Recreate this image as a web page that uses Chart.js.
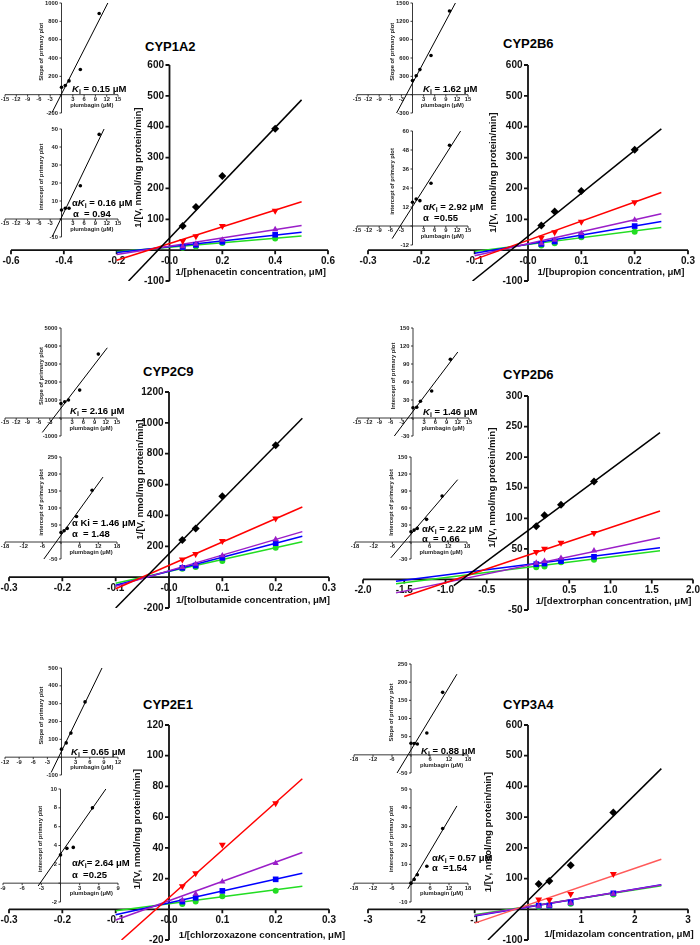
<!DOCTYPE html>
<html>
<head>
<meta charset="utf-8">
<script src="https://cdn.jsdelivr.net/npm/chart.js@4.4.0/dist/chart.umd.min.js"></script>
<style>
  html, body { margin: 0; padding: 0; background: #fff; }
  #page { position: relative; width: 700px; height: 945px; overflow: hidden; font-family: Arial, "Liberation Sans", sans-serif; }
  canvas { position: absolute; }
  .ttl { position: absolute; font: bold 13px Arial, "Liberation Sans", sans-serif; line-height: 14px; white-space: nowrap; }
  .ki { position: absolute; font: bold 9.5px Arial, "Liberation Sans", sans-serif; line-height: 11px; white-space: nowrap; }
  .ki sub { font-size: 7px; vertical-align: -2px; line-height: 0; }
</style>
</head>
<body>
<div id="page">
  <div class="ttl" style="left:145px;top:40px">CYP1A2</div>
  <div class="ttl" style="left:503px;top:37px">CYP2B6</div>
  <div class="ttl" style="left:143px;top:365px">CYP2C9</div>
  <div class="ttl" style="left:503px;top:368px">CYP2D6</div>
  <div class="ttl" style="left:143px;top:698px">CYP2E1</div>
  <div class="ttl" style="left:503px;top:698px">CYP3A4</div>
</div>
<script>
// ---- main Lineweaver-Burk plots: 1/[S] and 1/V for each plumbagin level ----
// series order: black, red, purple, blue, green
const conc1A2 = [0.05, 0.1, 0.2, 0.4];
const black1A2 = [78, 140, 240, 393];
const red1A2 = [30, 45, 78, 128];
const purple1A2 = [12, 20, 33, 67];
const blue1A2 = [10, 17, 27, 50];
const green1A2 = [8, 12, 23, 38];
const fits1A2 = [[-0.155, -100, 0.5, 487], [-0.2, -33, 0.5, 157], [-0.2, -14, 0.5, 80], [-0.2, -8, 0.5, 58], [-0.2, -5, 0.5, 46]];

const conc2B6 = [0.025, 0.05, 0.1, 0.2];
const black2B6 = [80, 125, 192, 325];
const red2B6 = [40, 58, 92, 155];
const purple2B6 = [22, 33, 55, 98];
const blue2B6 = [20, 28, 47, 78];
const green2B6 = [15, 22, 42, 60];
const fits2B6 = [[-0.104, -100, 0.25, 393], [-0.1, -30, 0.25, 187], [-0.1, -18, 0.25, 118], [-0.1, -10, 0.25, 93], [-0.1, -4, 0.25, 73]];

const conc2C9 = [0.025, 0.05, 0.1, 0.2];
const black2C9 = [240, 315, 525, 855];
const red2C9 = [115, 150, 235, 380];
const purple2C9 = [65, 85, 140, 245];
const blue2C9 = [60, 75, 125, 220];
const green2C9 = [55, 65, 105, 190];
const fits2C9 = [[-0.1, -200, 0.25, 1030], [-0.1, -75, 0.25, 455], [-0.1, -60, 0.25, 295], [-0.1, -52, 0.25, 265], [-0.1, -40, 0.25, 230]];

const conc2D6 = [0.1, 0.2, 0.4, 0.8];
const black2D6 = [87, 105, 122, 160];
const red2D6 = [45, 50, 60, 76];
const purple2D6 = [27, 30, 35, 47];
const blue2D6 = [25, 26, 30, 37];
const green2D6 = [20, 21, 28, 32];
const fits2D6 = [[-0.9, -10, 1.6, 240], [-1.5, -28, 1.6, 112], [-1.6, -22, 1.6, 68], [-1.6, -3, 1.6, 52], [-1.6, -7, 1.6, 47]];

const conc2E1 = [0.025, 0.05, 0.1, 0.2];
const red2E1 = [15, 23.5, 42, 69];
const purple2E1 = [6, 10, 18, 30];
const blue2E1 = [5, 7.5, 12, 19.5];
const green2E1 = [3.5, 5, 8.5, 12];
const fits2E1 = [null, [-0.089, -20, 0.25, 85], [-0.1, -7, 0.25, 37], [-0.1, -3.5, 0.25, 23.5], [-0.1, -1, 0.25, 15]];

const conc3A4 = [0.2, 0.4, 0.8, 1.6];
const black3A4 = [82, 92, 143, 315];
const red3A4 = [32, 30, 50, 115];
const purple3A4 = [10, 12, 20, 50];
const blue3A4 = [12, 12, 22, 52];
const green3A4 = [8, 10, 18, 48];
const fits3A4 = [[-0.75, -100, 2.5, 458], [-1, -45, 2.5, 163], [-1, -20, 2.5, 79], [-1, -22, 2.5, 80], [-1, -18, 2.5, 77]];

// ---- secondary plots vs plumbagin (μM) ----
const plumb = [0, 1, 2, 5, 10];
const plumb2E1 = [0, 1, 2, 5];
const slope1A2 = [80, 100, 150, 275, 885];
const slopeFit1A2 = [-2.5, -194, 12.3, 1000];
const icpt1A2 = [5, 6, 6, 18.5, 47];
const icptFit1A2 = [-2.5, -10, 11.3, 50];
const slope2B6 = [230, 310, 410, 640, 1370];
const slopeFit2B6 = [-4.3, -300, 11.6, 1500];
const icpt2B6 = [15, 17, 16, 27, 51];
const icptFit2B6 = [-5.5, -8, 13, 60];
const slope2C9 = [800, 900, 1000, 1550, 3550];
const slopeFit2C9 = [-5, -800, 12.4, 3900];
const icpt2C9 = [28, 33, 40, 75, 152];
const icptFit2C9 = [-5.5, -50, 13.5, 191];
const slope2D6 = [17, 18, 28, 45, 98];
const slopeFit2D6 = [-5, -30, 12, 110];
const icpt2D6 = [18, 21, 24, 40, 81];
const icptFit2D6 = [-6.5, -28, 15, 110];
const slope2E1 = [45, 80, 135, 310];
const slopeFit2E1 = [-2.2, -86, 8.6, 500];
const icpt2E1 = [3, 3.7, 3.8, 8];
const icptFit2E1 = [-3.5, -0.3, 7.1, 10];
const slope3A4 = [32, 31, 30, 60, 172];
const slopeFit3A4 = [-4.4, -50, 14.5, 222];
const icpt3A4 = [0, 2, 4.5, 9, 29];
const icptFit3A4 = [-1, -3, 14.5, 41];

// ---- tick values / labels ----
const tX1A2 = [-0.6, -0.4, -0.2, 0, 0.2, 0.4, 0.6];
const lX1A2 = ['-0.6', '-0.4', '-0.2', '-0.0', '0.2', '0.4', '0.6'];
const tX03 = [-0.3, -0.2, -0.1, 0, 0.1, 0.2, 0.3];
const lX03 = ['-0.3', '-0.2', '-0.1', '-0.0', '0.1', '0.2', '0.3'];
const tX2D6 = [-2, -1.5, -1, -0.5, 0, 0.5, 1, 1.5, 2];
const lX2D6 = ['-2.0', '-1.5', '-1.0', '-0.5', '', '0.5', '1.0', '1.5', '2.0'];
const tX3A4 = [-3, -2, -1, 0, 1, 2, 3];
const lX3A4 = ['-3', '-2', '-1', '', '1', '2', '3'];
const tY600 = [-100, 0, 100, 200, 300, 400, 500, 600];
const lY600 = ['-100', '', '100', '200', '300', '400', '500', '600'];
const tY2C9 = [-200, 0, 200, 400, 600, 800, 1000, 1200];
const lY2C9 = ['-200', '', '200', '400', '600', '800', '1000', '1200'];
const tY2D6 = [-50, 0, 50, 100, 150, 200, 250, 300];
const lY2D6 = ['-50', '', '50', '100', '150', '200', '250', '300'];
const tY2E1 = [-20, 0, 20, 40, 60, 80, 100, 120];
const lY2E1 = ['-20', '', '20', '40', '60', '80', '100', '120'];

const tI15 = [-15, -12, -9, -6, -3, 0, 3, 6, 9, 12, 15];
const lI15 = ['-15', '-12', '-9', '-6', '-3', '', '3', '6', '9', '12', '15'];
const tI18 = [-18, -12, -6, 0, 6, 12, 18];
const lI18 = ['-18', '-12', '-6', '', '6', '12', '18'];
const tI12 = [-12, -9, -6, -3, 0, 3, 6, 9, 12];
const lI12 = ['-12', '-9', '-6', '-3', '', '3', '6', '9', '12'];
const tI9 = [-9, -6, -3, 0, 3, 6, 9];
const lI9 = ['-9', '-6', '-3', '', '3', '6', '9'];

const PAD = 50;
const page = document.getElementById('page');

const crossAxes = {
  id: 'crossAxes',
  beforeDatasetsDraw(chart, args, o) {
    const { ctx } = chart;
    const xs = chart.scales.x, ys = chart.scales.y;
    const x0 = xs.getPixelForValue(0), y0 = ys.getPixelForValue(0);
    ctx.save();
    ctx.strokeStyle = o.color; ctx.fillStyle = o.color; ctx.lineWidth = o.lw;
    ctx.beginPath();
    ctx.moveTo(xs.left, y0); ctx.lineTo(xs.right, y0);
    ctx.moveTo(x0, ys.top); ctx.lineTo(x0, ys.bottom);
    o.xTicks.forEach(v => { const p = xs.getPixelForValue(v); ctx.moveTo(p, y0); ctx.lineTo(p, y0 + o.tl); });
    o.yTicks.forEach(v => { const p = ys.getPixelForValue(v); ctx.moveTo(x0, p); ctx.lineTo(x0 - o.tl, p); });
    ctx.stroke();
    ctx.font = o.tickFont;
    ctx.textAlign = 'center'; ctx.textBaseline = 'middle';
    o.xTicks.forEach((v, i) => { if (o.xLabels[i]) ctx.fillText(o.xLabels[i], xs.getPixelForValue(v), y0 + o.xLabelDy); });
    ctx.textAlign = 'right';
    o.yTicks.forEach((v, i) => { if (o.yLabels[i]) ctx.fillText(o.yLabels[i], x0 - o.tl - 1.5, ys.getPixelForValue(v)); });
    ctx.font = o.titleFont; ctx.textAlign = 'center';
    ctx.fillText(o.xTitle, (x0 + xs.right) / 2 + o.xTitleDx, y0 + o.xTitleDy);
    ctx.translate(x0 - o.yTitleDx, (ys.top + y0) / 2 + o.yTitleDy);
    ctx.rotate(-Math.PI / 2);
    ctx.fillText(o.yTitle, 0, 0);
    ctx.restore();
  }
};

function addChart(box, xr, yr, datasets, axes) {
  const c = document.createElement('canvas');
  const w = box.w + 2 * PAD, h = box.h + 2 * PAD;
  c.width = w; c.height = h;
  c.style.left = (box.x - PAD) + 'px'; c.style.top = (box.y - PAD) + 'px';
  c.style.width = w + 'px'; c.style.height = h + 'px';
  page.appendChild(c);
  return new Chart(c, {
    type: 'scatter',
    data: { datasets },
    options: {
      responsive: false, animation: false, devicePixelRatio: 1, events: [],
      layout: { padding: PAD },
      plugins: { legend: { display: false }, tooltip: { enabled: false }, crossAxes: axes },
      scales: {
        x: { type: 'linear', min: xr[0], max: xr[1], display: false },
        y: { type: 'linear', min: yr[0], max: yr[1], display: false }
      }
    },
    plugins: [crossAxes]
  });
}

const STY = [
  { color: '#000000', style: 'rectRot', r: 4, rot: 0 },
  { color: '#ff0000', style: 'triangle', r: 4, rot: 180 },
  { color: '#9a1ec8', style: 'triangle', r: 3.6, rot: 0 },
  { color: '#0000ff', style: 'rect', r: 4, rot: 0 },
  { color: '#22dd22', style: 'circle', r: 3, rot: 0 }
];

function mainSets(xs, vals, fits, lineColors) {
  const out = [];
  vals.forEach((ys, i) => {
    if (!ys) return;
    const s = STY[i], f = fits[i];
    out.push({ data: [{ x: f[0], y: f[1] }, { x: f[2], y: f[3] }], showLine: true,
      borderColor: (lineColors && lineColors[i]) || s.color, borderWidth: 1.5, pointRadius: 0, order: 2 });
    out.push({ data: xs.map((x, k) => ({ x, y: ys[k] })), showLine: false, pointStyle: s.style,
      pointRotation: s.rot, pointRadius: s.r, backgroundColor: s.color, borderColor: s.color, borderWidth: 0, order: 1 });
  });
  return out;
}

function insetSets(xs, ys, f) {
  return [
    { data: [{ x: f[0], y: f[1] }, { x: f[2], y: f[3] }], showLine: true, borderColor: '#000', borderWidth: 1, pointRadius: 0, order: 2 },
    { data: xs.map((x, k) => ({ x, y: ys[k] })), showLine: false, pointStyle: 'circle', pointRadius: 1.8,
      backgroundColor: '#000', borderColor: '#000', borderWidth: 0, order: 1 }
  ];
}

const YT = '1/[V, nmol/mg protein/min]';
function mainAxes(xT, xL, yT, yL, xTitle, dx, dy, ytDx, ytDy) {
  return { color: '#111', lw: 1.8, tl: 4, tickFont: 'bold 10px Arial', titleFont: 'bold 9.6px Arial',
    xTicks: xT, xLabels: xL, yTicks: yT, yLabels: yL, xLabelDy: 11,
    xTitle, xTitleDx: dx, xTitleDy: dy, yTitle: YT, yTitleDx: ytDx, yTitleDy: ytDy };
}
function insetAxes(xT, xL, yT, yL, yTitle) {
  return { color: '#222', lw: 0.9, tl: 2, tickFont: 'bold 5.8px Arial', titleFont: 'bold 5.8px Arial',
    xTicks: xT, xLabels: xL, yTicks: yT, yLabels: yL, xLabelDy: 4.8,
    xTitle: 'plumbagin (μM)', xTitleDx: 2, xTitleDy: 10.5, yTitle, yTitleDx: 20, yTitleDy: 3 };
}
const SL = 'Slope of primary plot', IC = 'intercept of primary plot';

// main panels
addChart({ x: 11, y: 65, w: 317, h: 216 }, [-0.6, 0.6], [-100, 600],
  mainSets(conc1A2, [black1A2, red1A2, purple1A2, blue1A2, green1A2], fits1A2),
  mainAxes(tX1A2, lX1A2, tY600, lY600, '1/[phenacetin concentration, μM]', 2, 22, 31, 10));
addChart({ x: 368, y: 65, w: 320, h: 216 }, [-0.3, 0.3], [-100, 600],
  mainSets(conc2B6, [black2B6, red2B6, purple2B6, blue2B6, green2B6], fits2B6),
  mainAxes(tX03, lX03, tY600, lY600, '1/[bupropion concentration, μM]', 3, 22, 35, 15));
addChart({ x: 9, y: 392, w: 320, h: 216 }, [-0.3, 0.3], [-200, 1200],
  mainSets(conc2C9, [black2C9, red2C9, purple2C9, blue2C9, green2C9], fits2C9),
  mainAxes(tX03, lX03, tY2C9, lY2C9, '1/[tolbutamide concentration, μM]', 4, 23, 29, -5));
addChart({ x: 363, y: 396, w: 330, h: 214 }, [-2, 2], [-50, 300],
  mainSets(conc2D6, [black2D6, red2D6, purple2D6, blue2D6, green2D6], fits2D6),
  mainAxes(tX2D6, lX2D6, tY2D6, lY2D6, '1/[dextrorphan concentration, μM]', 3, 22, 36, 0));
addChart({ x: 9, y: 725, w: 320, h: 215 }, [-0.3, 0.3], [-20, 120],
  mainSets(conc2E1, [null, red2E1, purple2E1, blue2E1, green2E1], fits2E1),
  mainAxes(tX03, lX03, tY2E1, lY2E1, '1/[chlorzoxazone concentration, μM]', 13, 26, 32, 12));
addChart({ x: 368, y: 725, w: 320, h: 215 }, [-3, 3], [-100, 600],
  mainSets(conc3A4, [black3A4, red3A4, purple3A4, blue3A4, green3A4], fits3A4, [null, '#ff5a5a']),
  mainAxes(tX3A4, lX3A4, tY600, lY600, '1/[midazolam concentration, μM]', 11, 25, 40, 15));

// inset panels
addChart({ x: 5, y: 3, w: 113, h: 110 }, [-15, 15], [-200, 1000], insetSets(plumb, slope1A2, slopeFit1A2),
  insetAxes(tI15, lI15, [-200, 0, 200, 400, 600, 800, 1000], ['-200', '', '200', '400', '600', '800', '1000'], SL));
addChart({ x: 5, y: 129, w: 113, h: 108 }, [-15, 15], [-10, 50], insetSets(plumb, icpt1A2, icptFit1A2),
  insetAxes(tI15, lI15, [-10, 0, 10, 20, 30, 40, 50], ['-10', '', '10', '20', '30', '40', '50'], IC));
addChart({ x: 357, y: 3, w: 111, h: 110 }, [-15, 15], [-300, 1500], insetSets(plumb, slope2B6, slopeFit2B6),
  insetAxes(tI15, lI15, [-300, 0, 300, 600, 900, 1200, 1500], ['-300', '', '300', '600', '900', '1200', '1500'], SL));
addChart({ x: 357, y: 131, w: 111, h: 114 }, [-15, 15], [-12, 60], insetSets(plumb, icpt2B6, icptFit2B6),
  insetAxes(tI15, lI15, [-12, 0, 12, 24, 36, 48, 60], ['-12', '', '12', '24', '36', '48', '60'], IC));
addChart({ x: 5, y: 328, w: 112, h: 108 }, [-15, 15], [-1000, 5000], insetSets(plumb, slope2C9, slopeFit2C9),
  insetAxes(tI15, lI15, [-1000, 0, 1000, 2000, 3000, 4000, 5000], ['-1000', '', '1000', '2000', '3000', '4000', '5000'], SL));
addChart({ x: 5, y: 457, w: 112, h: 102 }, [-18, 18], [-50, 250], insetSets(plumb, icpt2C9, icptFit2C9),
  insetAxes(tI18, lI18, [-50, 0, 50, 100, 150, 200, 250], ['-50', '', '50', '100', '150', '200', '250'], IC));
addChart({ x: 357, y: 328, w: 112, h: 108 }, [-15, 15], [-30, 150], insetSets(plumb, slope2D6, slopeFit2D6),
  insetAxes(tI15, lI15, [-30, 0, 30, 60, 90, 120, 150], ['-30', '', '30', '60', '90', '120', '150'], 'Intercept of primary plot'));
addChart({ x: 355, y: 457, w: 112, h: 102 }, [-18, 18], [-30, 150], insetSets(plumb, icpt2D6, icptFit2D6),
  insetAxes(tI18, lI18, [-30, 0, 30, 60, 90, 120, 150], ['-30', '', '30', '60', '90', '120', '150'], 'Intercept of primary plot'));
addChart({ x: 5, y: 668, w: 113, h: 107 }, [-12, 12], [-100, 500], insetSets(plumb2E1, slope2E1, slopeFit2E1),
  insetAxes(tI12, lI12, [-100, 0, 100, 200, 300, 400, 500], ['-100', '', '100', '200', '300', '400', '500'], SL));
addChart({ x: 3, y: 789, w: 115, h: 113 }, [-9, 9], [-2, 10], insetSets(plumb2E1, icpt2E1, icptFit2E1),
  insetAxes(tI9, lI9, [-2, 0, 2, 4, 6, 8, 10], ['-2', '', '2', '4', '6', '8', '10'], IC));
addChart({ x: 354, y: 664, w: 114, h: 109 }, [-18, 18], [-50, 250], insetSets(plumb, slope3A4, slopeFit3A4),
  insetAxes(tI18, lI18, [-50, 0, 50, 100, 150, 200, 250], ['-50', '', '50', '100', '150', '200', '250'], SL));
addChart({ x: 354, y: 789, w: 114, h: 113 }, [-18, 18], [-10, 50], insetSets(plumb, icpt3A4, icptFit3A4),
  insetAxes(tI18, lI18, [-10, 0, 10, 20, 30, 40, 50], ['-10', '', '10', '20', '30', '40', '50'], IC));
</script>
<script>
  // Ki annotations
  const kiLabels = [
    [72, 83, '<i>K</i><sub>i</sub> = 0.15 μM'],
    [72, 197, 'α<i>K</i><sub>i</sub> = 0.16 μM'], [73, 208, 'α &nbsp;= 0.94'],
    [423, 83, '<i>K</i><sub>i</sub> = 1.62 μM'],
    [423, 201, 'α<i>K</i><sub>i</sub> = 2.92 μM'], [423, 212, 'α &nbsp;=0.55'],
    [70, 405, '<i>K</i><sub>i</sub> = 2.16 μM'],
    [72, 517, 'α Ki = 1.46 μM'], [72, 528, 'α &nbsp;= 1.48'],
    [423, 406, '<i>K</i><sub>i</sub> = 1.46 μM'],
    [422, 523, 'α<i>K</i><sub>i</sub> = 2.22 μM'], [422, 533, 'α &nbsp;= 0.66'],
    [71, 746, '<i>K</i><sub>i</sub> = 0.65 μM'],
    [72, 857, 'α<i>K</i><sub>i</sub>= 2.64 μM'], [72, 869, 'α &nbsp;=0.25'],
    [421, 745, '<i>K</i><sub>i</sub> = 0.88 μM'],
    [432, 852, 'α<i>K</i><sub>i</sub> = 0.57 μM'], [432, 862, 'α &nbsp;=1.54']
  ];
  kiLabels.forEach(([x, y, html]) => {
    const d = document.createElement('div');
    d.className = 'ki'; d.style.left = x + 'px'; d.style.top = y + 'px'; d.innerHTML = html;
    document.getElementById('page').appendChild(d);
  });
</script>
</body>
</html>
